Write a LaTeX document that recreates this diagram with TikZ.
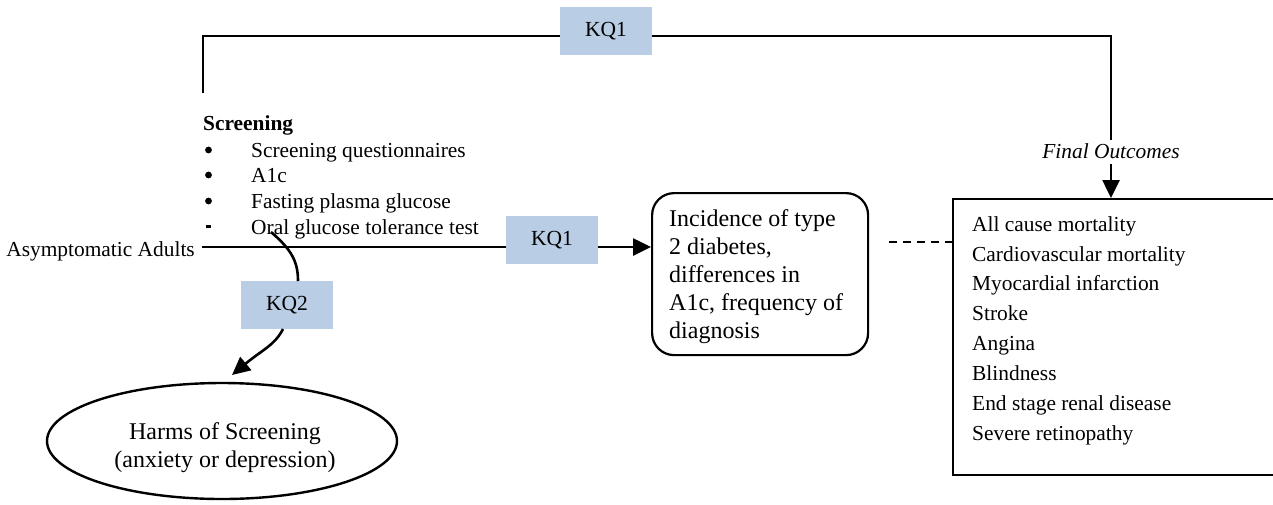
\documentclass[tikz,border=0pt]{standalone}
\usepackage{fontspec}
\setmainfont{Liberation Serif}
\usetikzlibrary{arrows.meta,shapes.geometric}
\definecolor{kqblue}{HTML}{B9CDE5}
\tikzset{
  kqbox/.style={fill=kqblue,minimum width=92pt,minimum height=48pt,inner sep=0pt,font=\fontsize{21.5}{25}\selectfont},
  txt/.style={inner sep=0pt,anchor=west,text height=15pt,text depth=5pt,font=\fontsize{21.4}{25}\selectfont},
  conn/.style={line width=2.6pt},
  arr/.style={line width=2.6pt,-{Triangle[length=18pt,width=17pt]}},
}
\begin{document}
\begin{tikzpicture}[x=1pt,y=-1pt]
\useasboundingbox (0,0) rectangle (1273,504);
% top KQ1 bracket
\node[kqbox] (kqtop) at (606,31) {KQ1};
\coordinate (tl) at (203,93);
\coordinate (tr) at (1111,140);
\draw[line width=2.8pt] (tl) -- (203,36) -- (kqtop.west |- 0,36);
\draw[line width=2.8pt] (kqtop.east |- 0,36) -- (1111,36) -- (tr);
% screening list
\node[txt,font=\fontsize{21.4}{25}\selectfont\bfseries] (scr) at (203,125) {Screening};
\foreach \y/\t [count=\i] in {152/Screening questionnaires,177/A1c,203/Fasting plasma glucose,229/Oral glucose tolerance test}{
  \node[txt] (it\i) at (251,\y) {\t};
}
\foreach \y/\i in {150/1,175/2,201/3}{
  \fill (208.5,\y) circle (3.4pt);
}
\fill (206,224.5) rectangle (211,227.5);
% asymptomatic adults
\node[txt,anchor=east] (asy) at (195,251) {Asymptomatic Adults};
\node[kqbox] (kqmid) at (552,240) {KQ1};
\draw[conn] (asy.east |- 0,247) ++(7,0) -- (kqmid.west |- 0,247);
% rounded intermediate box
\node[draw,line width=2.2pt,rounded corners=22pt,minimum width=216pt,minimum height=162pt,anchor=north west,inner sep=0pt] (inter) at (651,192) {};
\node[anchor=north west,inner sep=0pt,align=left,font=\fontsize{24}{28}\selectfont] (intertxt) at (669,209) {Incidence of type\\2 diabetes,\\differences in\\A1c, frequency of\\diagnosis};
\draw[arr] (kqmid.east |- 0,247) -- (inter.west |- 0,247);
% final outcomes
\node[font=\fontsize{21.4}{24}\selectfont\itshape,inner sep=0pt,text height=15pt,text depth=5pt] (fo) at (1111,153) {Final Outcomes};
\node[draw,line width=2.4pt,minimum width=340pt,minimum height=276pt,anchor=north west,inner sep=0pt] (out) at (952,198) {};
\draw[arr] (1111,164) -- (out.north -| 1111,0);
\foreach \y/\t [count=\i] in {226/All cause mortality,256/Cardiovascular mortality,285/Myocardial infarction,315/Stroke,345/Angina,375/Blindness,405/End stage renal disease,435/Severe retinopathy}{
  \node[txt] (o\i) at (972,\y) {\t};
}
\draw[conn,dash pattern=on 8pt off 6pt] (inter.east |- 0,242) ++(20,0) -- (out.west |- 0,242);
% KQ2 and harms
\node[kqbox] (kq2) at (287,305) {KQ2};
\coordinate (kqstart) at (271,232);
\draw[conn] (kqstart) .. controls (292,250) and (298,262) .. (298,281);
\node[draw,ellipse,line width=2.4pt,minimum width=350pt,minimum height=116pt,inner sep=0pt] (harm) at (222,441) {};
\node[align=center,inner sep=0pt,font=\fontsize{24}{28}\selectfont] (harmtxt) at (225,448) {Harms of Screening\\(anxiety or depression)};
\draw[arr] (283,329) .. controls (275,345) and (262,350) .. (232,375);
\end{tikzpicture}
\end{document}
